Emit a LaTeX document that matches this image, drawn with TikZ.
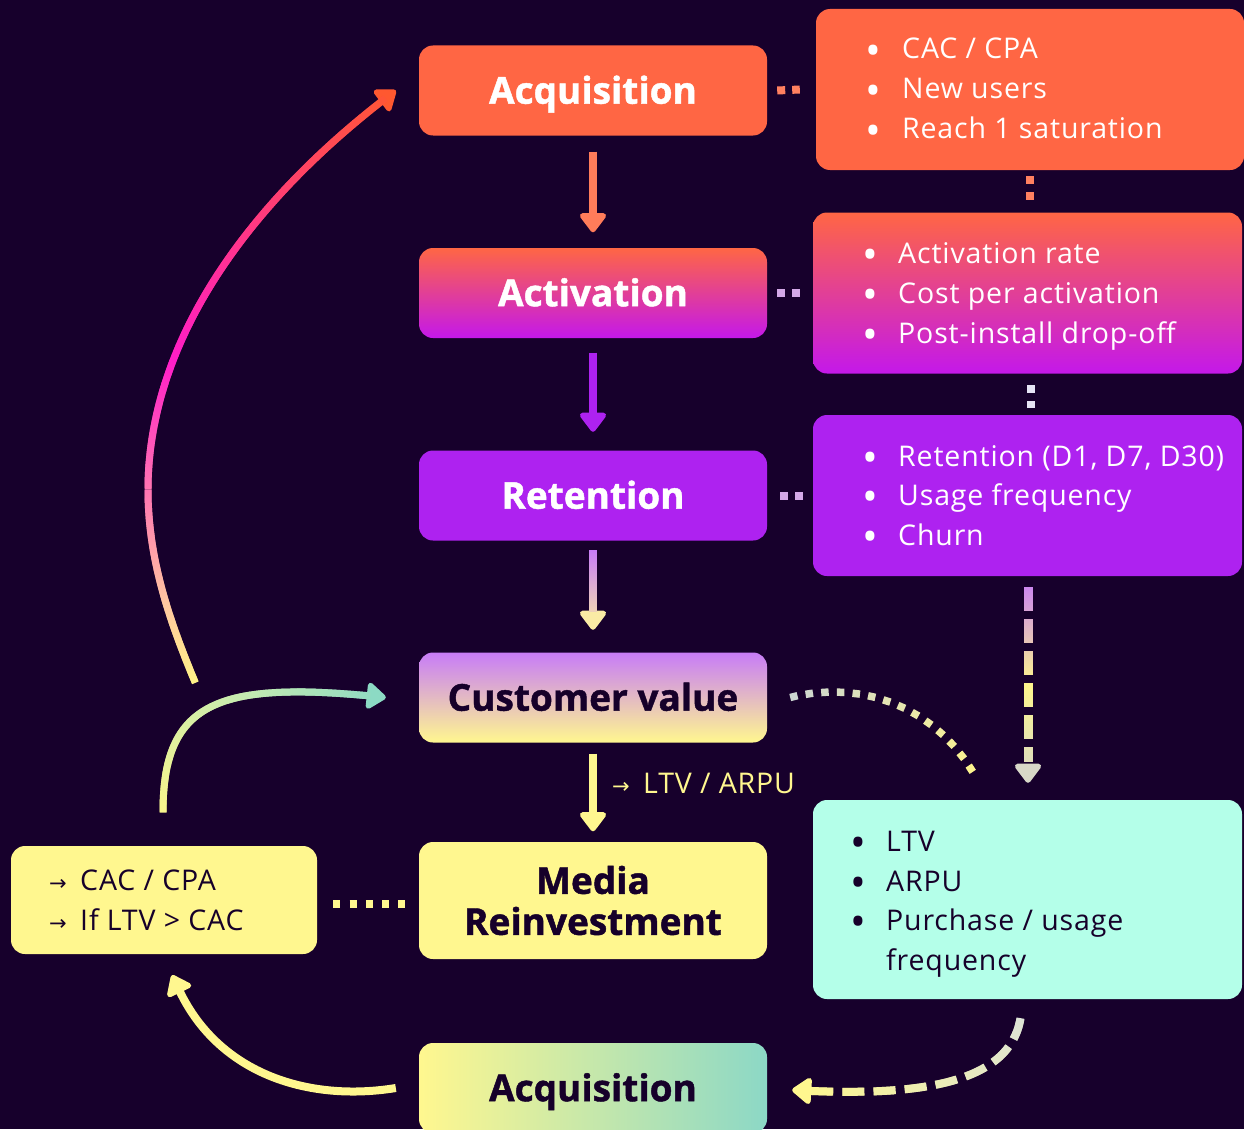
\documentclass[tikz,border=0pt]{standalone}
\usepackage{fontspec}
\setmainfont{Open Sans}
\newfontfamily\symf{DejaVu Sans}
\usetikzlibrary{arrows.meta,decorations.markings,calc}
\definecolor{bg}{RGB}{23,0,44}
\definecolor{org}{RGB}{255,102,68}
\definecolor{orgl}{RGB}{255,124,90}
\definecolor{mag}{RGB}{196,24,234}
\definecolor{pur}{RGB}{174,34,240}
\definecolor{lav}{RGB}{199,124,247}
\definecolor{yel}{RGB}{255,247,143}
\definecolor{mint}{RGB}{180,255,233}
\definecolor{tl}{RGB}{140,216,198}
\definecolor{dark}{RGB}{22,0,42}
\definecolor{dO}{RGB}{255,128,96}
\definecolor{dL}{RGB}{212,168,232}
\definecolor{dW}{RGB}{230,228,245}
% big curve stops
\definecolor{bA}{RGB}{255,243,135}
\definecolor{bB}{RGB}{255,200,160}
\definecolor{bC}{RGB}{255,130,175}
\definecolor{bD}{RGB}{255,30,200}
\definecolor{bE}{RGB}{255,62,115}
\definecolor{bF}{RGB}{255,88,48}
% other gradients
\definecolor{cA}{RGB}{248,245,140}
\definecolor{cB}{RGB}{200,236,176}
\definecolor{cC}{RGB}{140,218,196}
\definecolor{a3A}{RGB}{199,124,247}
\definecolor{a3B}{RGB}{250,235,165}
\definecolor{vdA}{RGB}{204,136,238}
\definecolor{vdB}{RGB}{253,245,140}
\definecolor{vdE}{RGB}{216,216,200}
\definecolor{dA}{RGB}{205,215,210}
\definecolor{dB}{RGB}{255,245,138}
\definecolor{tdA}{RGB}{222,228,214}
\definecolor{tdB}{RGB}{255,247,140}

\newcommand\ttl{\bfseries\addfontfeature{FakeBold=1.2}\fontsize{37}{41}\selectfont}
\newcommand\bodyf{\addfontfeature{LetterSpace=3}\fontsize{28.5}{34}\selectfont}
\newcommand\arrs{{\symf\fontsize{21}{21}\selectfont →}}
\newcommand\bul{\makebox[0pt]{\fontsize{42}{42}\selectfont\raisebox{-6.5pt}{•}}}

\newcommand\gseg[5]{\pgfmathsetmacro\gpc{max(0,min(100,100*(#1-(#2))/((#3)-(#2))))}\colorlet{gc}{#5!\gpc!#4}}
\newcommand\gAB[3]{\gseg{#3}{0}{1}{#1}{#2}}
\newcommand\gABC[4]{\ifdim#4pt<0.5pt \gseg{#4}{0}{0.5}{#1}{#2}\else\gseg{#4}{0.5}{1}{#2}{#3}\fi}
\newcommand\gBig[1]{%
 \ifdim#1pt<0.12pt \gseg{#1}{0}{0.12}{bA}{bB}\else
 \ifdim#1pt<0.26pt \gseg{#1}{0.12}{0.26}{bB}{bC}\else
 \ifdim#1pt<0.48pt \gseg{#1}{0.26}{0.48}{bC}{bD}\else
 \ifdim#1pt<0.76pt \gseg{#1}{0.48}{0.76}{bD}{bE}\else
 \gseg{#1}{0.76}{1}{bE}{bF}\fi\fi\fi\fi}

% gradient solid stroke: grad, half width, end pos, path
\newcommand\gstroke[4]{%
 \path[decoration={markings, mark=between positions 0 and #3 step 1pt with {%
   \pgfmathsetmacro\gtpos{\pgfkeysvalueof{/pgf/decoration/mark info/distance from start}/\pgfdecoratedpathlength}%
   #1{\gtpos}%
   \fill[gc] (-0.9pt,-#2) rectangle (0.9pt,#2);}}, decorate] #4;}
% gradient dashed stroke: grad, half width, on, period, end pos, path
\newcommand\gdashed[6]{%
 \path[decoration={markings, mark=between positions 0 and #5 step 1pt with {%
   \pgfmathsetmacro\gdd{\pgfkeysvalueof{/pgf/decoration/mark info/distance from start}}%
   \pgfmathsetmacro\gph{mod(\gdd,#4)}%
   \ifdim\gph pt<#3pt
     \pgfmathsetmacro\gtpos{\gdd/\pgfdecoratedpathlength}#1{\gtpos}%
     \pgfmathsetmacro\gln{\gph<(#3-1) ? 1.7 : 1.0}%
     \fill[gc] (-0.05pt,-#2) rectangle (\gln pt,#2);%
   \fi}}, decorate] #6;}
% gradient squares: grad, size, step, end pos, path
\newcommand\gdots[5]{%
 \path[decoration={markings, mark=between positions 0 and #4 step #3 with {%
   \pgfmathsetmacro\gtpos{\pgfkeysvalueof{/pgf/decoration/mark info/distance from start}/\pgfdecoratedpathlength}%
   #1{\gtpos}%
   \fill[gc] (0pt,-#2/2) rectangle (#2,#2/2);}}, decorate] #5;}

\newcommand\pBig{(bigS) .. controls (170,622) and (148,560) .. (148,490) .. controls (148,340) and (250,200) .. ($(acq.west)+(-23,0)$)}
\newcommand\pCust{($(lb.north)+(-1,-34)$) .. controls (163,700) and (220,680) .. ($(cv.west)+(-33,0)$)}
\newcommand\pTD{($(r4.south)+(-7,19)$) .. controls (1010,1080) and (930,1098) .. ($(acq2.east)+(25,2)$)}
\newcommand\pVD{($(r3.south)+(0.5,11)$) -- ($(r4.north)+(0.5,-17)$)}
\newcommand\pDot{($(cv.east)+(23,0)$) .. controls (860,680) and (935,705) .. ($(r4.north)+(-52,-23)$)}
\newcommand\pAt{($(ret.south)+(0,10)$) -- ($(cv.north)+(0,-22.5)$)}

\begin{document}
\begin{tikzpicture}[x=1pt,y=-1pt,
  box/.style={rounded corners=14pt, minimum width=348pt, minimum height=90pt, inner sep=0pt, font=\ttl, align=center},
  one/.style={text height=26.4pt, text depth=0pt},
  rbox/.style={rounded corners=14pt, inner sep=0pt},
  itm/.style={inner sep=0pt, font=\bodyf, anchor=base west},
  arr/.style={line width=8pt, -{Triangle[round,width=30pt,length=21pt]}},
  tip/.style={line width=8pt, dash pattern=on 0pt off 5000pt, -{Triangle[round,width=30pt,length=21pt]}},
  sq/.style={line width=8pt, dash pattern=on 8pt off 7pt}]

\fill[bg] (0,0) rectangle (1244,1129);
\useasboundingbox (0,0) rectangle (1244,1129);

% central column
\node[box,one,fill=org,text=white] (acq) at (593,90.5) {Acquisition};
\node[box,one,top color=org,bottom color=mag,text=white] (act) at (593,293) {Activation};
\node[box,one,fill=pur,text=white] (ret) at (593,495.5) {Retention};
\node[box,one,top color=lav,bottom color=yel,text=dark] (cv) at (593,697.5) {Customer value};
\node[box,fill=yel,text=dark,minimum height=117pt] (media) at (593,900.5) {Media\\Reinvestment};
\node[box,one,left color=yel,right color=tl,text=dark] (acq2) at (593,1088) {Acquisition};

% right column
\node[rbox,fill=org,minimum width=428pt,minimum height=161pt] (r1) at (1030,89.5) {};
\node[rbox,top color=org,bottom color=mag,minimum width=429pt,minimum height=161pt] (r2) at (1027.5,293) {};
\node[rbox,fill=pur,minimum width=429pt,minimum height=161pt] (r3) at (1027.5,495.5) {};
\node[rbox,fill=mint,minimum width=429pt,minimum height=199pt] (r4) at (1027.5,899.5) {};
\node[rbox,fill=yel,minimum width=306pt,minimum height=108pt] (lb) at (164,900) {};

% texts
\node[itm,text=white] (t11) at (873,59) {\bul\hspace{29pt}CAC / CPA};
\node[itm,text=white] (t12) at (873,99) {\bul\hspace{29pt}New users};
\node[itm,text=white] (t13) at (873,139) {\bul\hspace{29pt}Reach 1 saturation};
\node[itm,text=white] (t21) at (870,263) {\bul\hspace{28pt}Activation rate};
\node[itm,text=white] (t22) at (870,303) {\bul\hspace{28pt}Cost per activation};
\node[itm,text=white] (t23) at (870,343) {\bul\hspace{28pt}Post-install drop-off};
\node[itm,text=white] (t31) at (870,466) {\bul\hspace{28pt}Retention (D1, D7, D30)};
\node[itm,text=white] (t32) at (870,505) {\bul\hspace{28pt}Usage frequency};
\node[itm,text=white] (t33) at (870,545) {\bul\hspace{28pt}Churn};
\node[itm,text=dark] (t41) at (858,851) {\bul\hspace{28pt}LTV};
\node[itm,text=dark] (t42) at (858,891) {\bul\hspace{28pt}ARPU};
\node[itm,text=dark] (t43) at (858,930) {\bul\hspace{28pt}Purchase / usage};
\node[itm,text=dark] (t44) at (886,970) {frequency};
\node[itm,text=dark] (l1) at (49,890) {\makebox[31pt][l]{\arrs}CAC / CPA};
\node[itm,text=dark] (l2) at (49,930) {\makebox[31pt][l]{\arrs}If LTV > CAC};
\node[itm,text=yel] (lab) at (612,793) {\makebox[31pt][l]{\arrs}LTV / ARPU};

% central arrows
\draw[arr, orgl] ($(acq.south)+(0,16)$) -- ($(act.north)+(0,-15.5)$);
\draw[arr, pur] ($(act.south)+(0,14.5)$) -- ($(ret.north)+(0,-18.5)$);
\draw[tip, a3B] \pAt;
\gstroke{\gAB{a3A}{a3B}}{4pt}{-19pt}{\pAt}
\draw[arr, yel] ($(cv.south)+(0,11)$) -- ($(media.north)+(0,-10.5)$);

% dotted connectors
\draw[sq, dO] ($(acq.east)+(10,0)$) -- ($(r1.west)+(-16,0)$);
\draw[sq, dL] ($(act.east)+(10,0)$) -- ($(r2.west)+(-13,0)$);
\draw[sq, dL] ($(ret.east)+(13,0)$) -- ($(r3.west)+(-10,0)$);
\draw[sq, dO, dash pattern=on 8pt off 8pt] ($(r1.south)+(0,6)$) -- ($(r2.north)+(2.5,-12.5)$);
\draw[sq, dW, dash pattern=on 8pt off 8pt] ($(r2.south)+(3,11.5)$) -- ($(r3.north)+(3,-7)$);
\draw[sq, yel, dash pattern=on 7pt off 9.3pt] ($(lb.east)+(16,4)$) -- ($(media.west)+(-14,3.5)$);

% vertical dashed arrow
\draw[tip, vdE, line width=9pt] \pVD;
\gdashed{\gABC{vdA}{vdB}{vdE}}{4.5pt}{24}{32}{-22pt}{\pVD}

% dotted curve
\gdots{\gAB{dA}{dB}}{7.5pt}{15.7pt}{1}{\pDot}

% dashed curve teal -> acquisition
\draw[tip, yel] \pTD;
\gdashed{\gAB{tdA}{tdB}}{4pt}{22}{31}{-20pt}{\pTD}

% bottom solid curve
\draw[arr, yel] ($(acq2.west)+(-23,0)$) .. controls (310,1102) and (220,1075) .. ($(lb.south)+(8,21)$);

% curve left box -> customer value
\draw[tip, cC, line width=7pt] \pCust;
\gstroke{\gABC{cA}{cB}{cC}}{3.5pt}{-18pt}{\pCust}

% big curve
\coordinate (bigS) at (195,682);
\draw[tip, bF, line width=7pt] \pBig;
\gstroke{\gBig}{3.5pt}{-18pt}{\pBig}
\end{tikzpicture}
\end{document}
